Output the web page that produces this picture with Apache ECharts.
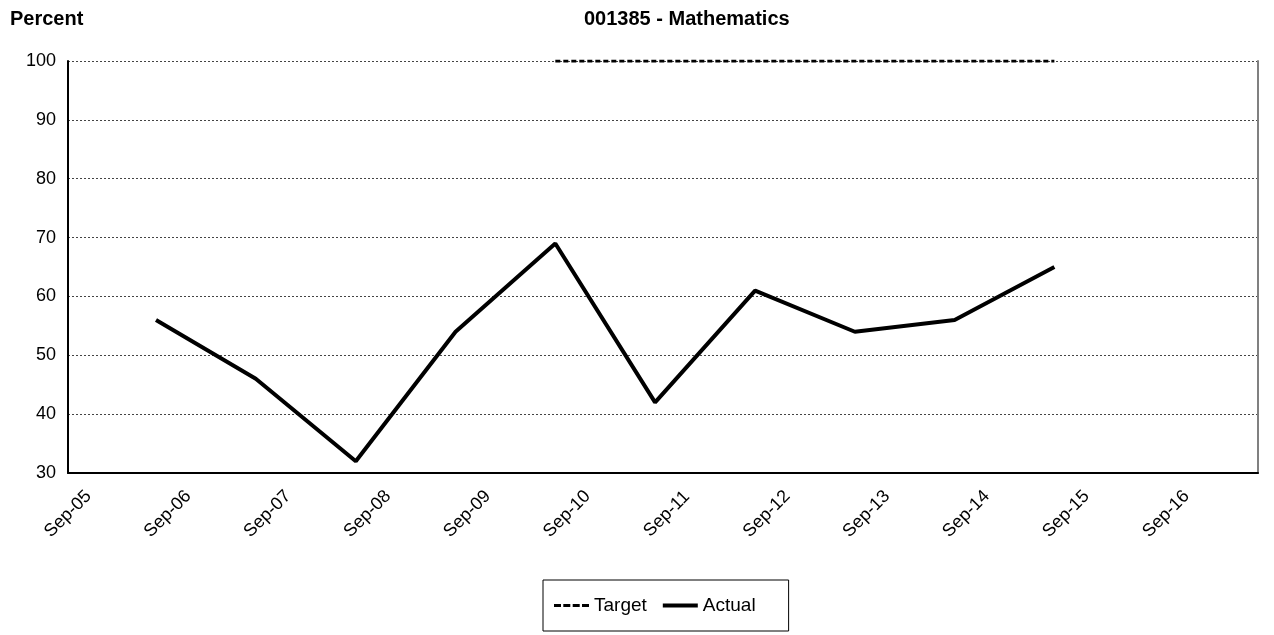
<!DOCTYPE html>
<html>
<head>
<meta charset="utf-8">
<script src="https://cdn.jsdelivr.net/npm/echarts@6/dist/echarts.min.js"></script>
<style>
  html, body { margin: 0; background: #fff; }
  #chart { width: 1274px; height: 635px; }
</style>
</head>
<body>
<div id="chart"></div>
<script>
// x-axis tick labels (one per September)
const tickDates = ['2005-09-01', '2006-09-01', '2007-09-01', '2008-09-01', '2009-09-01', '2010-09-01',
  '2011-09-01', '2012-09-01', '2013-09-01', '2014-09-01', '2015-09-01', '2016-09-01']
const tickLabels = ['Sep-05', 'Sep-06', 'Sep-07', 'Sep-08', 'Sep-09', 'Sep-10',
  'Sep-11', 'Sep-12', 'Sep-13', 'Sep-14', 'Sep-15', 'Sep-16']

// Actual results
const actualDates = ['2006-07-20', '2007-07-20', '2008-07-20', '2009-07-20', '2010-07-20',
  '2011-07-20', '2012-07-20', '2013-07-20', '2014-07-20', '2015-07-20']
const actualValues = [56, 46, 32, 54, 69, 42, 61, 54, 56, 65]

// Target
const targetDates = ['2010-07-20', '2011-07-20', '2012-07-20', '2013-07-20', '2014-07-20', '2015-07-20']
const targetValues = [100, 100, 100, 100, 100, 100]

const FONT = "'Liberation Sans', Arial, sans-serif"

// dates -> ms timestamps (UTC), used on a plain value axis
const toTime = (s) => Date.parse(s + 'T00:00:00Z')
const tickTimes = tickDates.map(toTime)

// legend keys: four dashes for Target, a solid bar for Actual
const DASH_ICON = 'path://M0 0h7v3h-7zM9.3 0h7v3h-7zM18.7 0h7v3h-7zM28 0h7v3h-7z'

const chart = echarts.init(document.getElementById('chart'))

chart.setOption({
  animation: false,
  backgroundColor: '#fff',
  textStyle: { fontFamily: FONT, color: '#000' },
  title: [
    {
      text: 'Percent',
      left: 10,
      top: 9,
      padding: 0,
      textStyle: { fontFamily: FONT, fontSize: 20, fontWeight: 'bold', color: '#000' },
    },
    {
      text: '001385 - Mathematics',
      left: 584,
      top: 9,
      padding: 0,
      textStyle: { fontFamily: FONT, fontSize: 20, fontWeight: 'bold', color: '#000' },
    },
  ],
  grid: { left: 68, right: 16, top: 61, bottom: 162 },
  legend: {
    data: [
      { name: 'Target', icon: DASH_ICON },
      { name: 'Actual', icon: 'rect' },
    ],
    left: 543,
    top: 580,
    padding: [16, 33, 16, 11],
    itemGap: 16,
    itemWidth: 35,
    itemHeight: 4,
    borderColor: '#000',
    borderWidth: 1,
    itemStyle: { color: '#000', borderWidth: 0 },
    textStyle: { fontFamily: FONT, fontSize: 19, color: '#000' },
  },
  xAxis: {
    type: 'value',
    min: toTime('2005-09-01'),
    max: toTime('2017-08-03'),
    axisLine: { lineStyle: { color: '#000', width: 2 } },
    axisTick: { show: false },
    splitLine: { show: false },
    axisLabel: {
      customValues: tickTimes,
      rotate: 45,
      align: 'center',
      verticalAlign: 'middle',
      margin: 41,
      fontFamily: FONT,
      fontSize: 18,
      color: '#000',
      formatter: (v) => {
        const i = tickTimes.indexOf(v)
        return i < 0 ? '' : tickLabels[i]
      },
    },
  },
  yAxis: [
    {
      type: 'value',
      min: 30,
      max: 100,
      interval: 10,
      axisLine: { show: true, lineStyle: { color: '#000', width: 2 } },
      axisTick: { show: false },
      axisLabel: { fontFamily: FONT, fontSize: 18, color: '#000', margin: 12 },
      splitLine: { lineStyle: { color: '#444', width: 1, type: [2, 2] } },
    },
    {
      // right-hand border of the plot area
      type: 'value',
      position: 'right',
      min: 30,
      max: 100,
      interval: 10,
      axisLine: { show: true, lineStyle: { color: '#808080', width: 2 } },
      axisTick: { show: false },
      axisLabel: { show: false },
      splitLine: { show: false },
    },
  ],
  series: [
    {
      name: 'Target',
      type: 'line',
      data: targetDates.map((d, i) => [toTime(d), targetValues[i]]),
      symbol: 'none',
      z: 3,
      lineStyle: { color: '#000', width: 3, type: [5, 3] },
      itemStyle: { color: '#000' },
    },
    {
      name: 'Actual',
      type: 'line',
      data: actualDates.map((d, i) => [toTime(d), actualValues[i]]),
      symbol: 'none',
      z: 4,
      lineStyle: { color: '#000', width: 4 },
      itemStyle: { color: '#000' },
    },
  ],
})
</script>
</body>
</html>
